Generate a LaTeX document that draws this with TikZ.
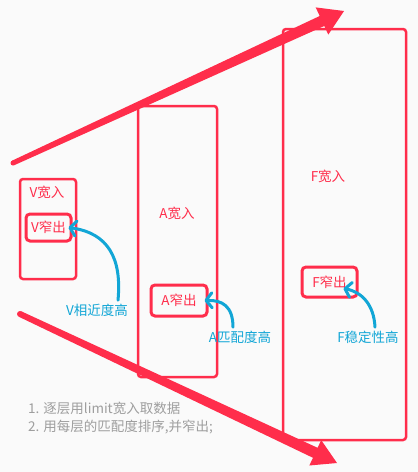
\documentclass[tikz,border=0pt]{standalone}
\usepackage{fontspec}
\setmainfont{Noto Sans CJK SC}
\usetikzlibrary{arrows.meta}

\definecolor{layerred}{HTML}{FF2D4B}
\definecolor{noteblue}{HTML}{12A6D6}
\definecolor{stepgray}{HTML}{9E9E9E}
\definecolor{paper}{HTML}{FAFAFA}

\begin{document}
\begin{tikzpicture}[x=1pt, y=-1pt,
        layer/.style={rectangle, rounded corners=3pt, draw=layerred, line width=2.5pt, inner sep=0pt},
        pick/.style={rectangle, rounded corners=4pt, draw=layerred, line width=3pt, inner sep=0pt, text=layerred, font=\fontsize{13.5}{16}\selectfont},
        word/.style={text=layerred, font=\fontsize{13.5}{16}\selectfont},
        note/.style={text=noteblue, font=\fontsize{13.5}{16}\selectfont},
        hint/.style={text=stepgray, anchor=west, inner sep=0pt, font=\fontsize{13.5}{16}\selectfont},
        curl/.style={draw=noteblue, line width=3pt, line cap=round, -{Straight Barb[round, length=6pt, width=15pt]}}]
    \fill[paper] (0,0) rectangle (418,472);
    \useasboundingbox (0,0) rectangle (418,472);

    % layers
    \node[layer, minimum width=56pt, minimum height=100pt] (vbox) at (48,229) {};
    \node[layer, minimum width=79pt, minimum height=271pt] (abox) at (177.5,241.5) {};
    \node[layer, minimum width=123pt, minimum height=411pt] (fbox) at (344.5,234.5) {};

    % wide and narrow
    \node[word] (vwide) at (47,192) {V宽入};
    \node[word] (awide) at (177,213) {A宽入};
    \node[word] (fwide) at (328,176) {F宽入};
    \node[pick, minimum width=45pt, minimum height=27pt] (vnarrow) at (48.5,227.5) {V窄出};
    \node[pick, minimum width=56pt, minimum height=31pt] (anarrow) at (179,300.5) {A窄出};
    \node[pick, minimum width=55pt, minimum height=30pt] (fnarrow) at (329.5,282) {F窄出};

    % big arrows
    \fill[layerred] (12.0,160.7) -- (319.7,16.0) -- (315.7,7.4) -- (344,11) -- (328.3,34.6) -- (324.3,26.0) -- (14.0,165.3) -- cycle;
    \fill[layerred] (13,163) circle (2.5);
    \fill[layerred] (21.3,311.3) -- (317.6,447.8) -- (321.2,440.1) -- (337,463) -- (309.3,465.5) -- (313.0,457.8) -- (18.7,316.7) -- cycle;
    \fill[layerred] (20,314) circle (3);

    % notes
    \node[note] (vsim) at (97,310) {V相近度高};
    \node[note] (asim) at (240,337) {A匹配度高};
    \node[note] (fsim) at (368,337) {F稳定性高};
    \draw[curl] ([xshift=21pt]vsim.north) .. controls (122,258) and (108,233) .. ([xshift=-4pt]vnarrow.east);
    \draw[curl] ([xshift=-7pt]asim.north) .. controls (233,306) and (222,300) .. ([xshift=-4pt]anarrow.east);
    \draw[curl] ([xshift=7pt]fsim.north) .. controls (374,305) and (362,292) .. ([xshift=14pt,yshift=10pt]fnarrow.south);

    % steps
    \node[hint] (line1) at (28,408) {1. 逐层用limit宽入取数据};
    \node[hint] (line2) at (28,427) {2. 用每层的匹配度排序,并窄出;};
\end{tikzpicture}
\end{document}
